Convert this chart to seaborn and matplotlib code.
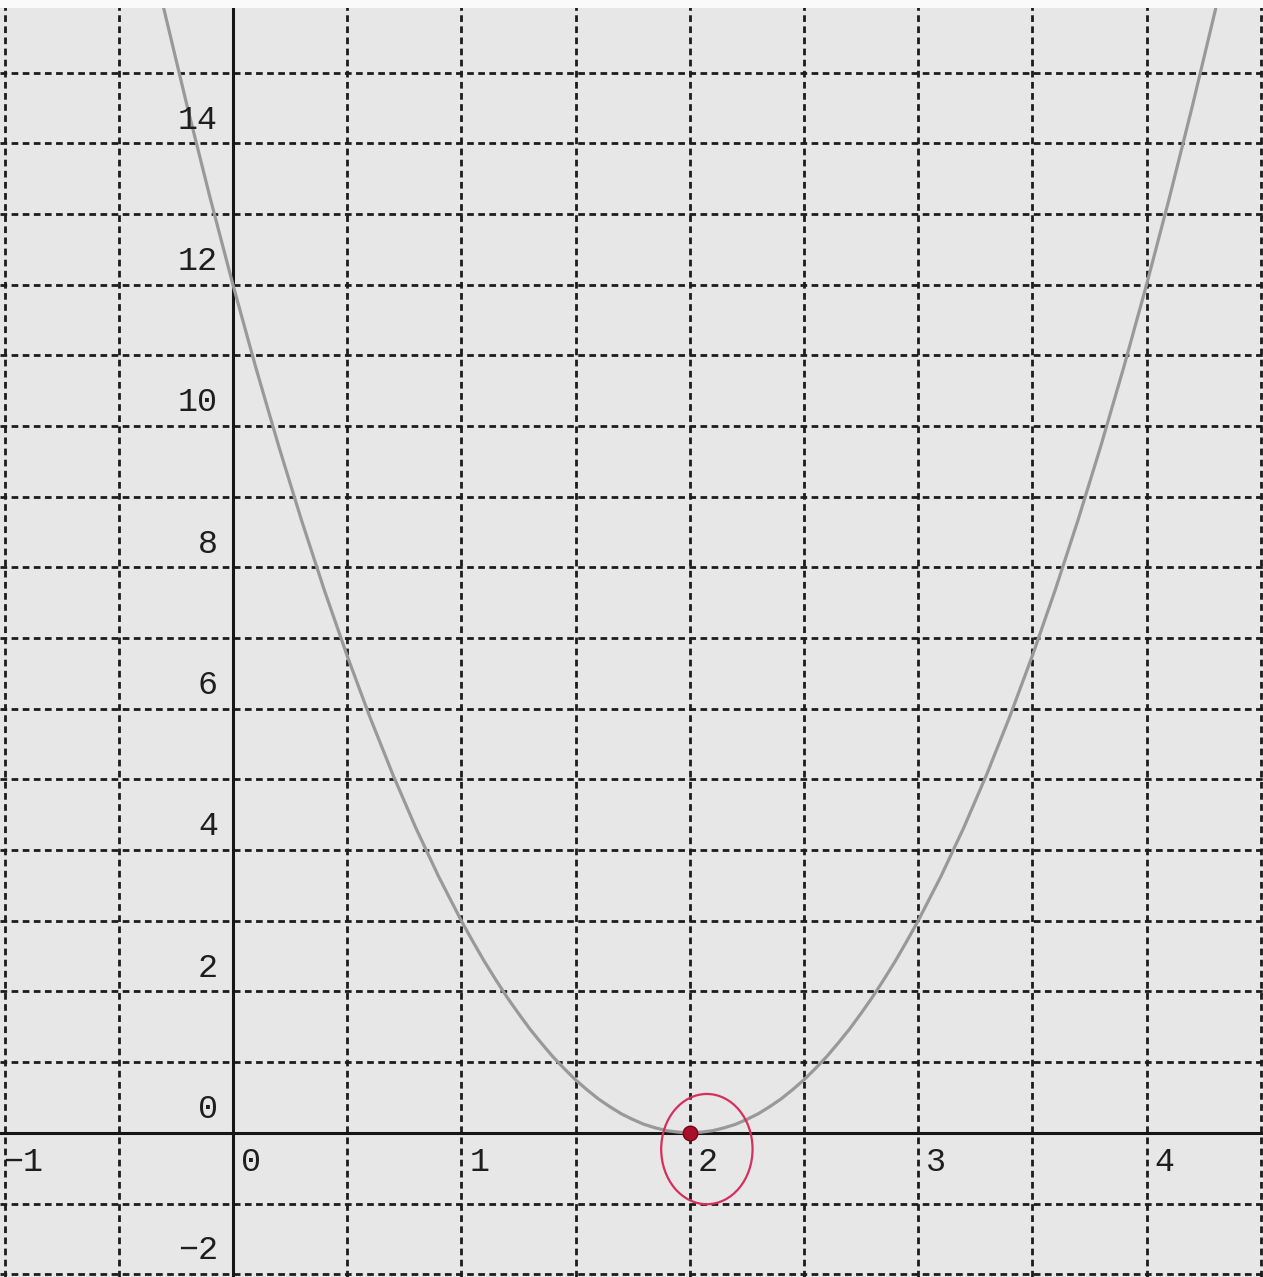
import numpy as np
import pandas as pd
import matplotlib
matplotlib.use('Agg')
import matplotlib.pyplot as plt
from matplotlib.patches import Ellipse, Rectangle
import seaborn as sns

# curve points (denser near the bottom of the bowl)
x_vals = [-0.4, -0.3, -0.2, -0.1, 0.0, 0.1, 0.2, 0.3, 0.4, 0.5, 0.6, 0.7, 0.8, 0.9,
          1.0, 1.05, 1.1, 1.15, 1.2, 1.25, 1.3, 1.35, 1.4, 1.45, 1.5, 1.55, 1.6, 1.65,
          1.7, 1.75, 1.8, 1.85, 1.9, 1.95, 2.0, 2.05, 2.1, 2.15, 2.2, 2.25, 2.3, 2.35,
          2.4, 2.45, 2.5, 2.55, 2.6, 2.65, 2.7, 2.75, 2.8, 2.85, 2.9, 2.95, 3.0,
          3.1, 3.2, 3.3, 3.4, 3.5, 3.6, 3.7, 3.8, 3.9, 4.0, 4.1, 4.2, 4.3, 4.4]
y_vals = [17.28, 15.87, 14.52, 13.23, 12.0, 10.83, 9.72, 8.67, 7.68, 6.75, 5.88, 5.07,
          4.32, 3.63, 3.0, 2.71, 2.43, 2.17, 1.92, 1.69, 1.47, 1.27, 1.08, 0.91, 0.75,
          0.61, 0.48, 0.37, 0.27, 0.19, 0.12, 0.07, 0.03, 0.01, 0.0, 0.01, 0.03, 0.07,
          0.12, 0.19, 0.27, 0.37, 0.48, 0.61, 0.75, 0.91, 1.08, 1.27, 1.47, 1.69, 1.92,
          2.17, 2.43, 2.71, 3.0, 3.63, 4.32, 5.07, 5.88, 6.75, 7.68, 8.67, 9.72, 10.83,
          12.0, 13.23, 14.52, 15.87, 17.28]

x_ticks = [-1, 0, 1, 2, 3, 4]
y_ticks = [14, 12, 10, 8, 6, 4, 2, 0, -2]
marked_x = [2.0]
marked_y = [0.0]

df = pd.DataFrame({'x': x_vals, 'y': y_vals})

sns.set_style('white')
plt.rcParams['font.family'] = ['Liberation Mono', 'DejaVu Sans Mono']

paper = '#e7e7e7'
fig = plt.figure(figsize=(12.63, 12.77), dpi=100, facecolor=paper)
ax = fig.add_axes([0, 0, 1, 1])
ax.set_facecolor(paper)

ax.set_xlim(-1.02, 4.51)
ax.set_ylim(-2.04, 16.03)

# dashed grid
grid_kw = dict(color='#1c1c1c', lw=2.0, ls=(0, (2.4, 1.6)), zorder=1)
for gx in np.arange(-1.0, 4.51, 0.5):
    ax.axvline(gx, **grid_kw)
for gy in range(-2, 17):
    ax.axhline(gy, **grid_kw)

# axes through origin
ax.axhline(0, color='#161616', lw=2.2, zorder=2)
ax.axvline(0, color='#161616', lw=2.2, zorder=2)

sns.lineplot(data=df, x='x', y='y', ax=ax, color='#999999', lw=2.3, zorder=3)

for t in x_ticks:
    ax.text(t + 0.08, -0.42, str(t).replace('-', '\u2212'), ha='center', va='center',
            fontsize=24, color='#1e1e1e', zorder=4)
for t in y_ticks:
    ax.text(-0.066, t + 0.33, str(t).replace('-', '\u2212'), ha='right', va='center',
            fontsize=24, color='#1e1e1e', zorder=4)

# red pen mark
ax.scatter(marked_x, marked_y, s=110, color='#a8102a', edgecolor='#7a0018', zorder=5)
ax.add_patch(Ellipse((marked_x[0] + 0.075, marked_y[0] - 0.23), 0.40, 1.56,
                     fill=False, edgecolor='#d5305d', lw=1.6, zorder=5))

for s in ax.spines.values():
    s.set_visible(False)
ax.set_xticks([])
ax.set_yticks([])
ax.set_xlabel('')
ax.set_ylabel('')

# white scanner edge at top
fig.patches.append(Rectangle((0, 1 - 8 / 1277), 1, 8 / 1277, transform=fig.transFigure,
                             facecolor='#fafafa', edgecolor='none', zorder=10))

fig.savefig('out.png', dpi=100, facecolor=paper)
